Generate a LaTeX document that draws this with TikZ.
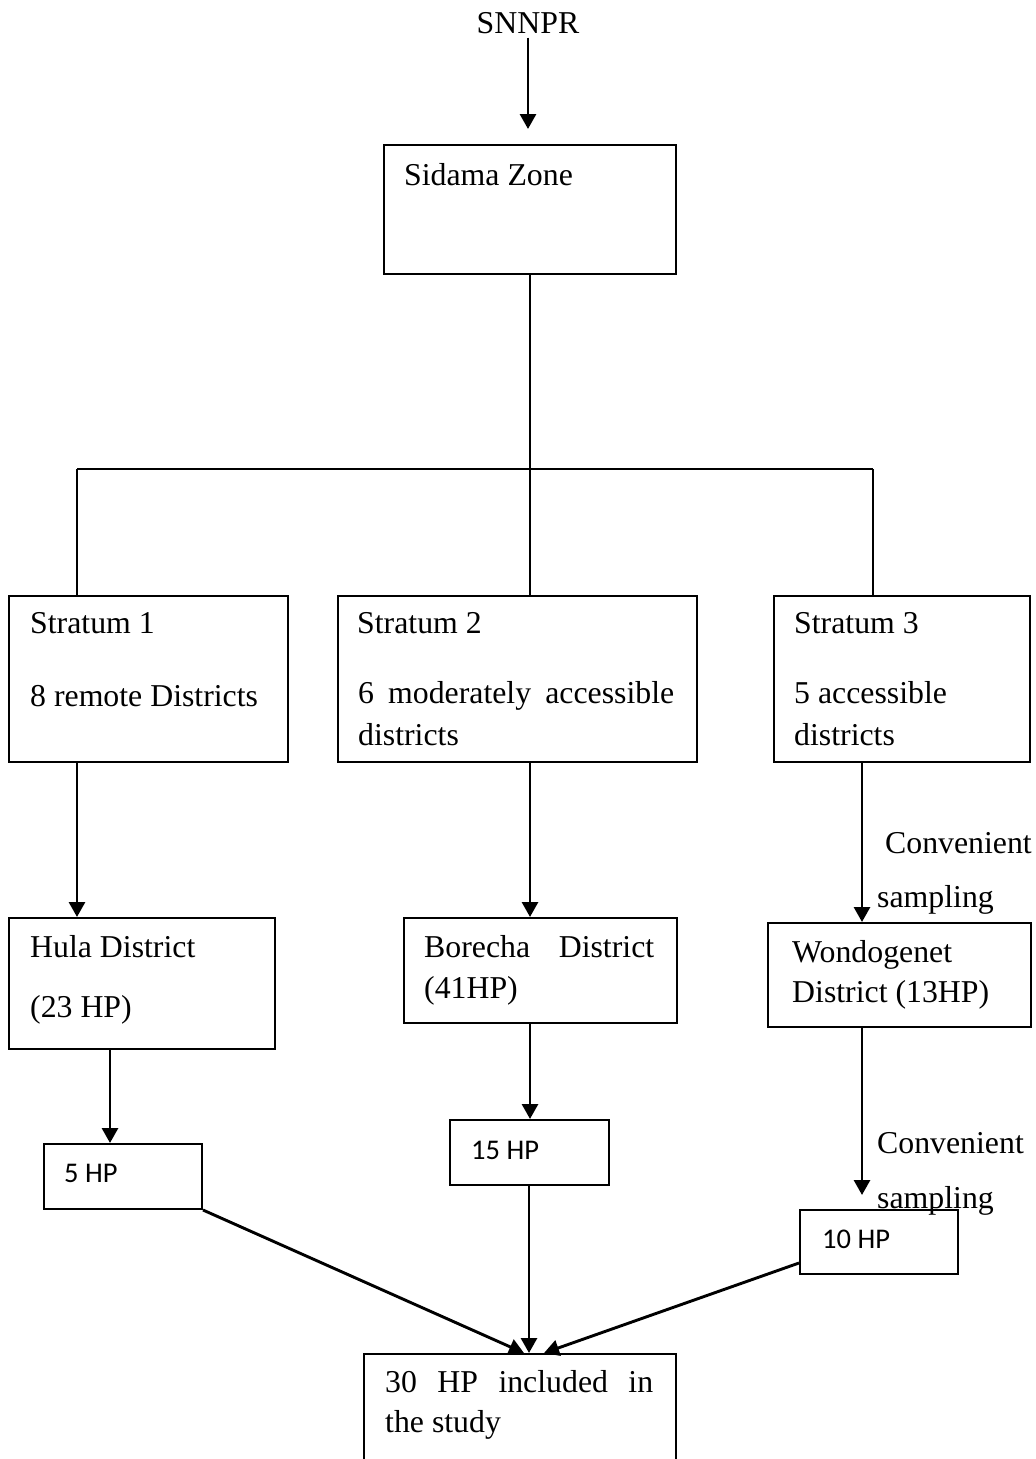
\documentclass[tikz,border=0pt]{standalone}
\usepackage{fontspec}
\setmainfont{Liberation Serif}
\newfontfamily\calfont{Carlito}
\usetikzlibrary{arrows.meta}
\begin{document}
\begin{tikzpicture}[x=1pt,y=-1pt,
  box/.style={draw, line width=2pt, rectangle, inner sep=0pt, anchor=north west},
  txt/.style={anchor=base west, inner sep=0pt, font=\fontsize{31.8}{42}\selectfont},
  hp/.style={anchor=base west, inner sep=0pt, font=\calfont\fontsize{28.5}{34}\selectfont},
  arr/.style={line width=2.9pt, -{Triangle[length=15pt,width=16pt]}},
  tree/.style={line width=1.8pt}]
\clip (0,0) rectangle (1036,1459);
\fill[white] (0,0) rectangle (1036,1459);

% boxes
\node[box, minimum width=292pt, minimum height=129pt] (sidama) at (383,144) {};
\node[box, minimum width=279pt, minimum height=166pt] (s1) at (8,595) {};
\node[box, minimum width=359pt, minimum height=166pt] (s2) at (337,595) {};
\node[box, minimum width=256pt, minimum height=166pt] (s3) at (773,595) {};
\node[box, minimum width=266pt, minimum height=131pt] (hula) at (8,917) {};
\node[box, minimum width=273pt, minimum height=105pt] (borecha) at (403,917) {};
\node[box, minimum width=263pt, minimum height=104pt] (wondo) at (767,922) {};
\node[box, minimum width=158pt, minimum height=65pt] (hp5) at (43,1143) {};
\node[box, minimum width=159pt, minimum height=65pt] (hp15) at (449,1119) {};
\node[box, minimum width=158pt, minimum height=64pt] (hp10) at (799,1209) {};
\node[box, minimum width=312pt, minimum height=200pt] (study) at (363,1353) {};

% texts
\node[txt, anchor=base] (snnpr) at (528,33) {SNNPR};
\node[txt] (tsid) at (404,185) {Sidama Zone};
\node[txt] (ts1a) at (30,633) {Stratum 1};
\node[txt] (ts1b) at (30,706) {8 remote Districts};
\node[txt] (ts2a) at (357,633) {Stratum 2};
\node[txt] (ts2b) at (358,703) {\makebox[316pt][s]{6 moderately accessible}};
\node[txt] (ts2c) at (358,745) {districts};
\node[txt] (ts3a) at (794,633) {Stratum 3};
\node[txt] (ts3b) at (794,703) {5 accessible};
\node[txt] (ts3c) at (794,745) {districts};
\node[txt] (thua) at (30,957) {Hula District};
\node[txt] (thub) at (30,1017) {(23 HP)};
\node[txt] (tboa) at (424,957) {\makebox[230pt][s]{Borecha District}};
\node[txt] (tbob) at (424,998) {(41HP)};
\node[txt] (twoa) at (792,962) {Wondogenet};
\node[txt] (twob) at (792,1002) {District (13HP)};
\node[txt] (tc1a) at (885,853) {Convenient};
\node[txt] (tc1b) at (877,907) {sampling};
\node[txt] (tc2a) at (877,1153) {Convenient};
\node[txt] (tc2b) at (877,1208) {sampling};
\node[hp] (t5) at (64,1182) {5 HP};
\node[hp] (t15) at (471,1159) {15 HP};
\node[hp] (t10) at (822,1248) {10 HP};
\node[txt] (tsta) at (385,1392) {\makebox[268pt][s]{30 HP included in}};
\node[txt] (tstb) at (385,1432) {the study};

% junction coordinates
\coordinate (j1) at (77,469);
\coordinate (j2) at (530,469);
\coordinate (j3) at (873,469);
\coordinate (c1) at (110,0);
\coordinate (c3) at (862,0);
\coordinate (e1) at (524,1353);
\coordinate (e2) at (529,1353);
\coordinate (e3) at (544,1353);
\coordinate (f3) at (799,1263);

% tree lines
\draw[tree] (sidama.south -| j2) -- (j2);
\draw[tree] (j1) -- (j3);
\draw[tree] (j1) -- (s1.north -| j1);
\draw[tree] (j2) -- (s2.north -| j2);
\draw[tree] (j3) -- (s3.north -| j3);

% arrows
\draw[arr, shorten <=4pt, shorten >=15pt] (snnpr.south) -- (snnpr.south |- sidama.north);
\draw[arr] (s1.south -| j1) -- (hula.north -| j1);
\draw[arr] (s2.south -| j2) -- (borecha.north -| j2);
\draw[arr] (s3.south -| c3) -- (wondo.north -| c3);
\draw[arr] (hula.south -| c1) -- (hp5.north -| c1);
\draw[arr] (borecha.south -| j2) -- (hp15.north -| j2);
\draw[arr, shorten >=14pt] (wondo.south -| c3) -- (hp10.north -| c3);
\draw[arr] (hp5.south east) -- (e1);
\draw[arr] (hp15.south -| e2) -- (e2);
\draw[arr] (f3) -- (e3);
\end{tikzpicture}
\end{document}
